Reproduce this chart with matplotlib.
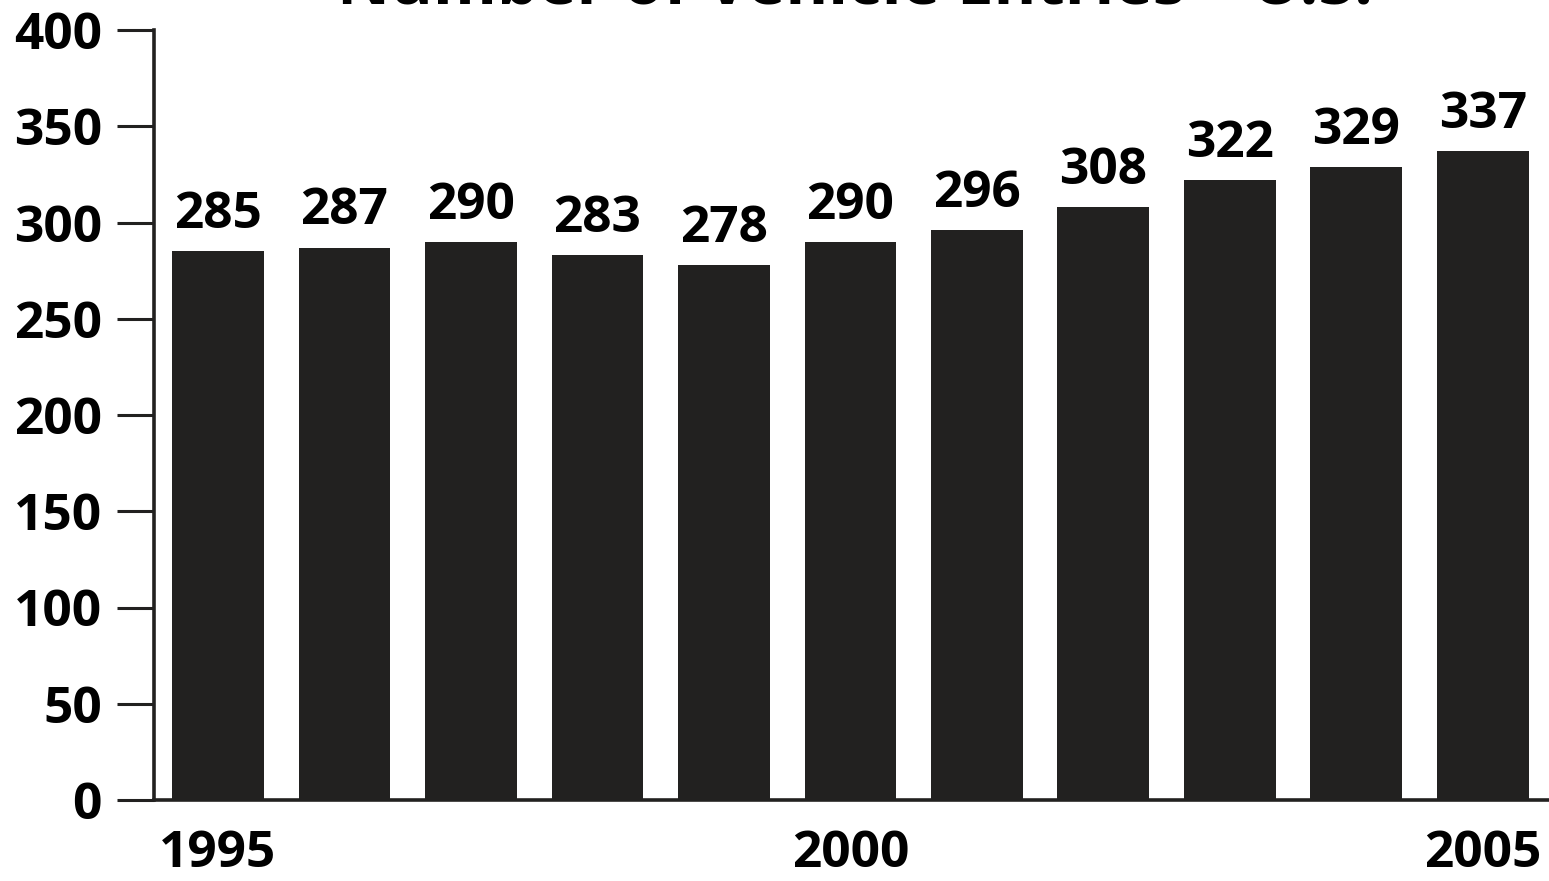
import matplotlib.pyplot as plt

years = [1995, 1996, 1997, 1998, 1999, 2000, 2001, 2002, 2003, 2004, 2005]
entries = [285, 287, 290, 283, 278, 290, 296, 308, 322, 329, 337]
yticks = [0, 50, 100, 150, 200, 250, 300, 350, 400]
xlabels = ['1995', '2000', '2005']

plt.rcParams['font.family'] = ['Open Sans', 'DejaVu Sans']
plt.rcParams['font.weight'] = 'bold'

ink = '#222120'
W, H = 1549, 881
fig = plt.figure(figsize=(W / 100, H / 100), dpi=100)
ax = fig.add_axes([154 / W, (H - 800) / H, (W - 154) / W, 770 / H])

pos = list(range(len(years)))
ax.bar(pos, entries, width=0.727, color=ink)
for x, v in zip(pos, entries):
    ax.annotate(str(v), (x, v), xytext=(0, 8), textcoords='offset points',
                ha='center', va='bottom', fontsize=37, fontweight='bold')

ax.set_xlim(-0.506, 10.522)
ax.set_ylim(0, 400)
ax.set_yticks(yticks)
ax.set_yticklabels([str(t) for t in yticks], fontsize=37, fontweight='bold')
ax.set_xticks([years.index(int(l)) for l in xlabels])
ax.set_xticklabels(xlabels, fontsize=37, fontweight='bold')
ax.tick_params(axis='y', length=26.6, width=2.2, color=ink, pad=11)
ax.tick_params(axis='x', length=0, pad=21)

for side in ['top', 'right']:
    ax.spines[side].set_visible(False)
for side in ['left', 'bottom']:
    ax.spines[side].set_linewidth(2.6)
    ax.spines[side].set_color(ink)

# title sits mostly above the top edge
fig.text(855 / W, (H - 3) / H, 'Number of Vehicle Entries – U.S.',
         ha='center', va='baseline', fontsize=47, fontweight='bold')

fig.savefig('out.png', dpi=100)
